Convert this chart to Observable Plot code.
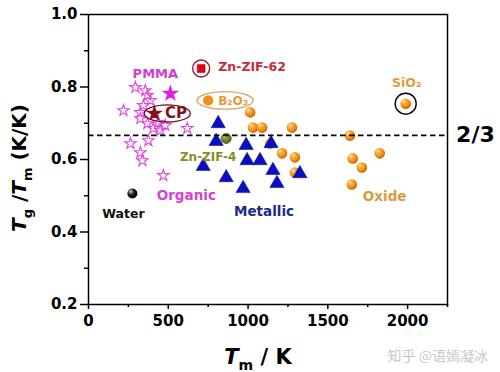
<!DOCTYPE html>
<html><head><meta charset="utf-8">
<script src="https://cdn.jsdelivr.net/npm/d3@7"></script>
<script src="https://cdn.jsdelivr.net/npm/@observablehq/plot@0.6"></script>
<style>body{margin:0;background:#fff} svg{display:block}</style>
</head><body><div id="chart"></div>
<script>
// ---- axis ticks ----
const xTicks = [0, 500, 1000, 1500, 2000];
const xMinor = [250, 750, 1250, 1750, 2250];
const yTicks = [0.2, 0.4, 0.6, 0.8, 1.0];
const yMinor = [0.3, 0.5, 0.7, 0.9];
const twoThirds = 2 / 3;

// ---- data (Tm in K, Tg/Tm) ----
const organicTm    = [294, 356, 369, 219, 344, 325, 369, 438, 406, 450, 619, 375, 263, 325, 338, 469, 325, 388, 481];
const organicRatio = [0.799, 0.790, 0.777, 0.735, 0.749, 0.713, 0.699, 0.702, 0.686, 0.680, 0.686, 0.652, 0.644, 0.619, 0.597, 0.556, 0.730, 0.763, 0.694];

const metalTm    = [813, 800, 719, 988, 994, 1075, 1144, 1156, 863, 969, 1181, 1325];
const metalRatio = [0.699, 0.650, 0.581, 0.639, 0.597, 0.597, 0.644, 0.570, 0.550, 0.520, 0.534, 0.561];

const oxideTm    = [1013, 1031, 1088, 1275, 1138, 1213, 1294, 1294, 1638, 1656, 1713, 1825, 1650];
const oxideRatio = [0.730, 0.688, 0.688, 0.688, 0.644, 0.617, 0.606, 0.564, 0.666, 0.603, 0.578, 0.617, 0.531];

const waterPt   = {Tm: 275, ratio: 0.506};
const pmmaPt    = {Tm: 513, ratio: 0.782};
const cpPt      = {Tm: 413, ratio: 0.727};
const zif62Pt   = {Tm: 706, ratio: 0.851};
const b2o3Pt    = {Tm: 750, ratio: 0.763};
const zif4Pt    = {Tm: 863, ratio: 0.658};
const sio2Pt    = {Tm: 1988, ratio: 0.754};

// highlight ellipses (center)
const cpEllipse   = {Tm: 494, ratio: 0.727};
const b2o3Ellipse = {Tm: 856, ratio: 0.763};

// ---- labels ----
const labelText  = ["PMMA", "Zn-ZIF-62", "B₂O₃", "CP", "Zn-ZIF-4", "Organic", "Water", "Metallic", "Oxide", "SiO₂"];
const labelTm    = [419, 1025, 906, 548, 750, 613, 219, 1100, 1856, 1994];
const labelRatio = [0.837, 0.854, 0.761, 0.727, 0.606, 0.501, 0.451, 0.457, 0.498, 0.810];
const labelColor = ["#d040d0", "#c0303a", "#e49a3c", "#7a1426", "#8c8c28", "#d444d4", "#111111", "#1c2a8e", "#dc9a40", "#e49a3c"];
const labelSize  = [13, 12.5, 12, 15, 12, 13.5, 12.5, 13.5, 13.5, 12.5];

const organic = organicTm.map((d, i) => ({Tm: d, ratio: organicRatio[i]}));
const metal = metalTm.map((d, i) => ({Tm: d, ratio: metalRatio[i]}));
const oxide = oxideTm.map((d, i) => ({Tm: d, ratio: oxideRatio[i]}));
const labels = labelText.map((t, i) => ({text: t, Tm: labelTm[i], ratio: labelRatio[i], color: labelColor[i], size: labelSize[i]}));

function ellipseSymbol(aspect) {
  return {
    draw(ctx, size) {
      const rx = Math.sqrt(size / Math.PI), ry = rx / aspect, k = 0.5523;
      ctx.moveTo(rx, 0);
      ctx.bezierCurveTo(rx, ry * k, rx * k, ry, 0, ry);
      ctx.bezierCurveTo(-rx * k, ry, -rx, ry * k, -rx, 0);
      ctx.bezierCurveTo(-rx, -ry * k, -rx * k, -ry, 0, -ry);
      ctx.bezierCurveTo(rx * k, -ry, rx, -ry * k, rx, 0);
      ctx.closePath();
    }
  };
}

const bold = {fontWeight: "bold", fontFamily: "DejaVu Sans"};

const plot = Plot.plot({
  width: 500,
  height: 372,
  marginLeft: 88,
  marginRight: 53,
  marginTop: 14,
  marginBottom: 68,
  style: {fontFamily: "DejaVu Sans", background: "white", color: "black"},
  x: {domain: [0, 2250]},
  y: {domain: [0.2, 1.0]},
  color: {type: "identity"},
  marks: [
    Plot.axisX({ticks: xTicks, tickSize: 5, tickPadding: 6, tickFormat: d3.format("d"), fontSize: 15, ...bold, label: null, strokeWidth: 1.5}),
    Plot.axisX({ticks: xMinor, tickSize: 3, tickFormat: () => "", label: null, strokeWidth: 1.5}),
    Plot.axisY({ticks: yTicks, tickSize: 8, tickPadding: 3, tickFormat: d3.format(".1f"), fontSize: 15, ...bold, label: null, strokeWidth: 1.5}),
    Plot.axisY({ticks: yMinor, tickSize: 4, tickFormat: () => "", label: null, strokeWidth: 1.5}),
    // organic stars
    Plot.dot(organic, {x: "Tm", y: "ratio", symbol: "star", r: 3.6, stroke: "#e048e0", strokeWidth: 1.1, fill: "none"}),
    Plot.dot([pmmaPt], {x: "Tm", y: "ratio", symbol: "star", r: 4.1, fill: "#e020e0", stroke: "#e020e0"}),
    Plot.dot([cpPt], {x: "Tm", y: "ratio", symbol: "star", r: 4, fill: "#8b1020", stroke: "#8b1020"}),
    Plot.dot([cpEllipse], {x: "Tm", y: "ratio", symbol: ellipseSymbol(2.7), r: 23, stroke: "#6a1020", strokeWidth: 1.3, fill: "none"}),
    // B2O3 ellipse + Zn-ZIF-62
    Plot.dot([b2o3Ellipse], {x: "Tm", y: "ratio", symbol: ellipseSymbol(3.2), r: 28, stroke: "#d8aa68", strokeWidth: 1.4, fill: "none"}),
    Plot.dot([b2o3Pt], {x: "Tm", y: "ratio", r: 5.2, fill: "#f0901c", stroke: "none"}),
    Plot.dot([zif62Pt], {x: "Tm", y: "ratio", r: 8.5, stroke: "#9a1a2a", strokeWidth: 1.4, fill: "white"}),
    Plot.dot([zif62Pt], {x: "Tm", y: "ratio", symbol: "square", r: 4.4, fill: "#e80010", stroke: "#8a0010", strokeWidth: 0.6}),
    // water
    Plot.dot([waterPt], {x: "Tm", y: "ratio", r: 5, fill: "url(#blackBall)", stroke: "none"}),
    // oxide spheres
    Plot.dot(oxide, {x: "Tm", y: "ratio", r: 5.3, fill: "url(#orangeBall)", stroke: "none"}),
    Plot.dot([sio2Pt], {x: "Tm", y: "ratio", r: 5.3, fill: "url(#orangeBall)", stroke: "none"}),
    Plot.dot([sio2Pt], {x: "Tm", y: "ratio", r: 10.5, stroke: "black", strokeWidth: 1.4, fill: "none"}),
    // metallic triangles
    Plot.dot(metal, {x: "Tm", y: "ratio", symbol: "triangle", r: 5.3, fill: "#0a10c0", stroke: "#06088a", strokeWidth: 0.5}),
    // Zn-ZIF-4
    Plot.dot([zif4Pt], {x: "Tm", y: "ratio", r: 5, fill: "url(#oliveBall)", stroke: "#4a5218", strokeWidth: 0.8}),
    // 2/3 line
    Plot.ruleY([twoThirds], {stroke: "black", strokeWidth: 1.8, strokeDasharray: "5.5,3.5"}),
    Plot.text([twoThirds], {x: 2425, y: d => d, text: () => "2/3", fontSize: 22, ...bold, fill: "black"}),
    // labels
    Plot.text(labels, {x: "Tm", y: "ratio", text: "text", fill: "color", fontSize: "size", ...bold}),
    Plot.frame({stroke: "black", strokeWidth: 1.5})
  ]
});

// gradients for the spheres
const defs = d3.create("svg:defs");
function ball(id, stops) {
  const g = defs.append("radialGradient").attr("id", id).attr("cx", "40%").attr("cy", "38%").attr("r", "62%").attr("fx", "32%").attr("fy", "28%");
  stops.forEach(([o, c]) => g.append("stop").attr("offset", o).attr("stop-color", c));
}
ball("orangeBall", [["0%", "#fff1d8"], ["25%", "#ffb84a"], ["70%", "#f08c14"], ["100%", "#c86400"]]);
ball("blackBall", [["0%", "#f0f0f0"], ["22%", "#777"], ["60%", "#111"], ["100%", "#000"]]);
ball("oliveBall", [["0%", "#d8e08a"], ["35%", "#8c9a30"], ["100%", "#5a6418"]]);
plot.insertBefore(defs.node(), plot.firstChild);

// axis titles with italic T and subscripts
const svg = d3.select(plot);
const xt = svg.append("text").attr("x", 258).attr("y", 364).attr("text-anchor", "middle")
  .attr("font-family", "DejaVu Sans").attr("font-weight", "bold").attr("font-size", 21).attr("fill", "black");
xt.append("tspan").attr("font-style", "italic").text("T");
xt.append("tspan").attr("font-size", 14).attr("dy", 6).text("m");
xt.append("tspan").attr("dy", -6).text(" / K");

const yt = svg.append("text").attr("transform", "translate(26,168) rotate(-90)").attr("text-anchor", "middle")
  .attr("font-family", "DejaVu Sans").attr("font-weight", "bold").attr("font-size", 20).attr("fill", "black");
yt.append("tspan").attr("font-style", "italic").text("T");
yt.append("tspan").attr("font-size", 13).attr("dy", 6).text("g");
yt.append("tspan").attr("dy", -6).text(" /");
yt.append("tspan").attr("font-style", "italic").text("T");
yt.append("tspan").attr("font-size", 13).attr("dy", 6).text("m");
yt.append("tspan").attr("dy", -6).text(" (K/K)");

// watermark
svg.append("text").attr("x", 488).attr("y", 361).attr("text-anchor", "end")
  .attr("font-family", "Noto Sans CJK SC").attr("font-size", 14).attr("fill", "#c9c9c9")
  .text("知乎 @语嫣凝冰");

document.getElementById("chart").appendChild(plot);
</script></body></html>
